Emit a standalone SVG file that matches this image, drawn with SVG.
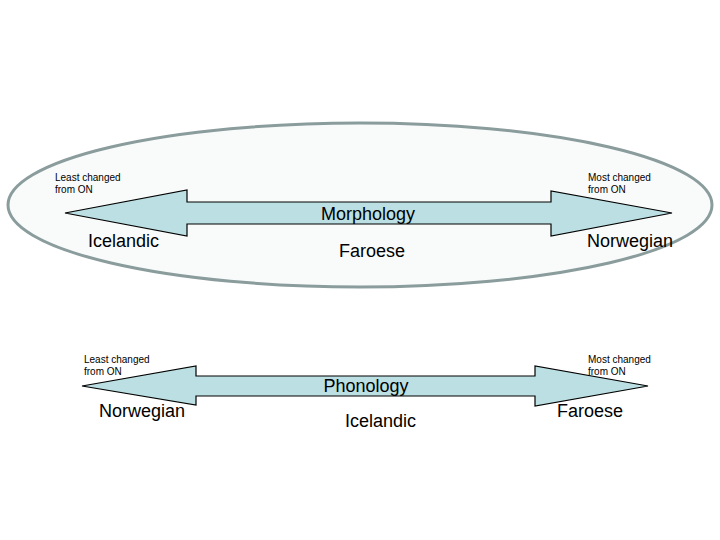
<svg xmlns="http://www.w3.org/2000/svg" width="720" height="540" viewBox="0 0 720 540">
<style>
.arrow{fill:#bbdfe2;stroke:#000;stroke-width:1.2}
.small{font-family:"Liberation Sans",Arial,sans-serif;font-size:10px;fill:#000}
.big{font-family:"Liberation Sans",Arial,sans-serif;font-size:18px;fill:#000}
</style>
<rect width="720" height="540" fill="#fff"/>
<g id="ellipse">
<ellipse cx="360" cy="205" rx="352" ry="82" fill="#f9fbfb" stroke="#8a9c9c" stroke-width="3"/>
</g>
<g id="connectors">
<g id="arrow-morphology">
<polygon class="arrow" points="65,213 187,190 187,202 551,202 551,191 672,213 551,236 551,224 187,224 187,236"/>
</g>
<g id="arrow-phonology">
<polygon class="arrow" points="82,386 196,366 196,376 535,376 535,366 648,386 535,406 535,396 196,396 196,405"/>
</g>
</g>
<g id="label-morphology"><text class="big" x="368" y="220" text-anchor="middle">Morphology</text></g>
<g id="label-phonology"><text class="big" x="366" y="392" text-anchor="middle">Phonology</text></g>
<g id="least1"><text class="small" x="55" y="181">Least changed</text><text class="small" x="55" y="193">from ON</text></g>
<g id="most1"><text class="small" x="588" y="181">Most changed</text><text class="small" x="588" y="193">from ON</text></g>
<g id="least2"><text class="small" x="84" y="363">Least changed</text><text class="small" x="84" y="375">from ON</text></g>
<g id="most2"><text class="small" x="588" y="363">Most changed</text><text class="small" x="588" y="375">from ON</text></g>
<g id="icelandic1"><text class="big" x="88" y="247">Icelandic</text></g>
<g id="faroese1"><text class="big" x="339" y="257">Faroese</text></g>
<g id="norwegian1"><text class="big" x="587" y="247">Norwegian</text></g>
<g id="norwegian2"><text class="big" x="99" y="417">Norwegian</text></g>
<g id="icelandic2"><text class="big" x="345" y="427">Icelandic</text></g>
<g id="faroese2"><text class="big" x="557" y="417">Faroese</text></g>
</svg>
